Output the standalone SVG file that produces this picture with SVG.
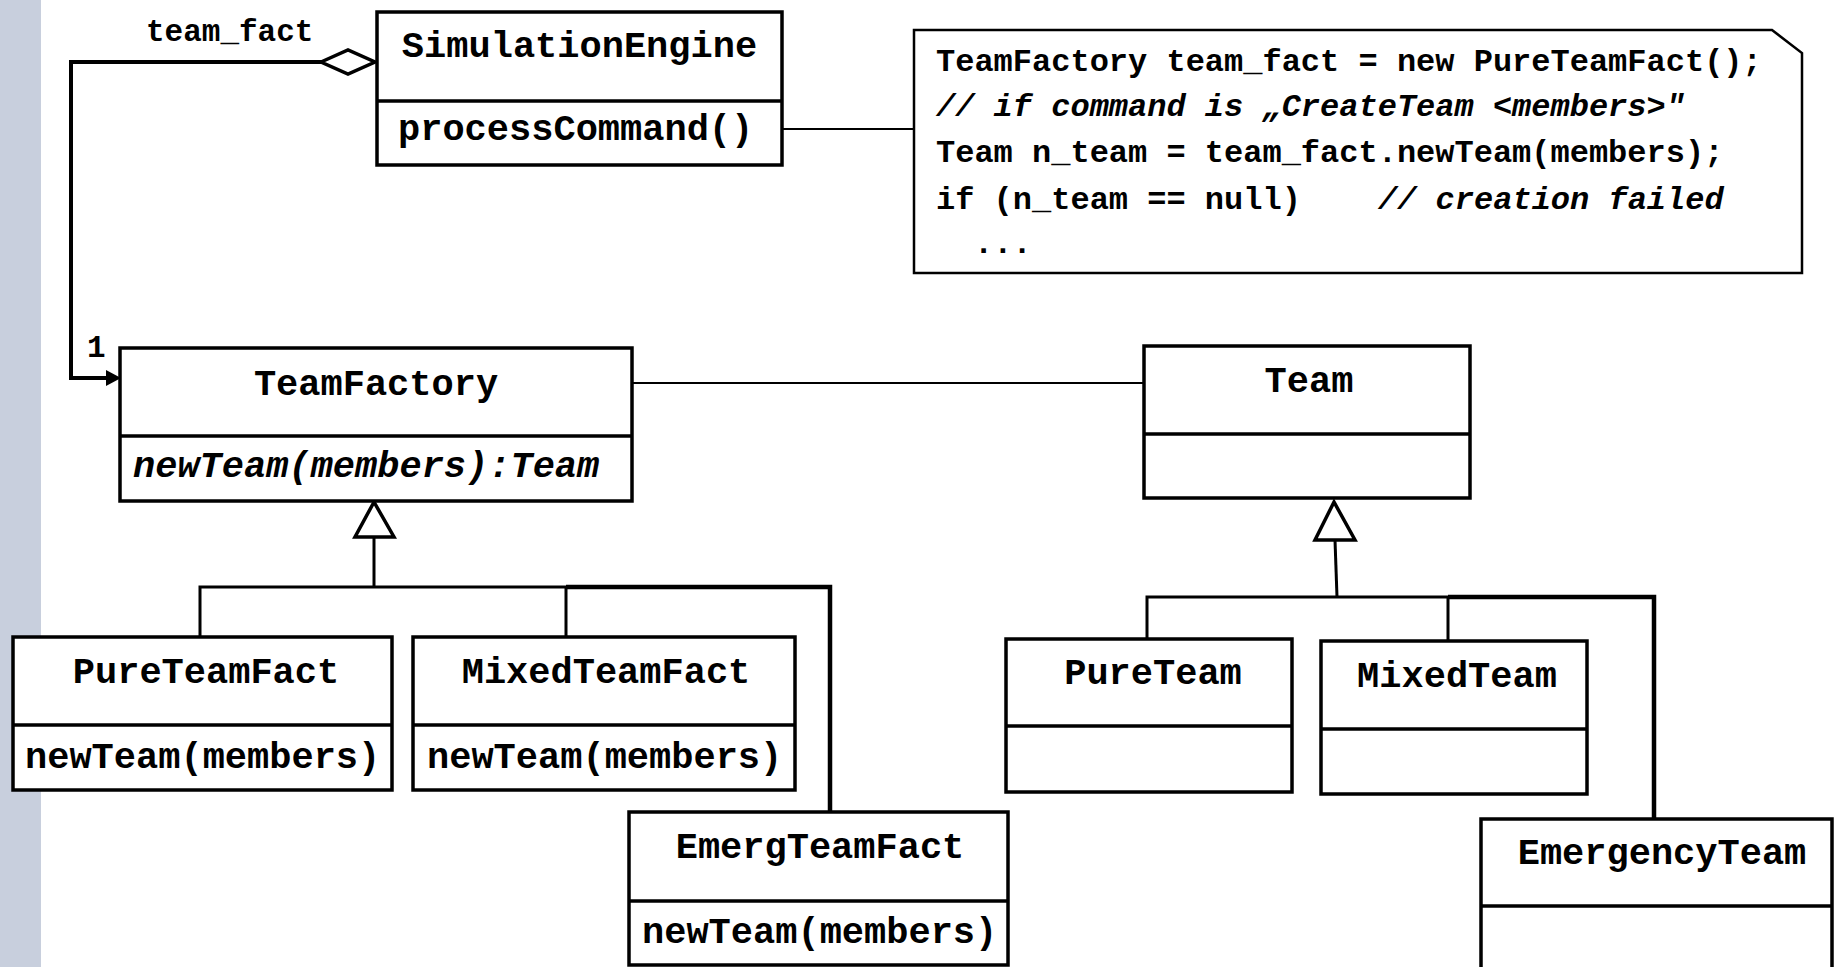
<svg xmlns="http://www.w3.org/2000/svg" width="1835" height="967" viewBox="0 0 1835 967">
  <style>
    .box { fill: #ffffff; stroke: #000000; stroke-width: 3.5; }
    .div { stroke: #000000; stroke-width: 3.5; }
    .note { fill: #ffffff; stroke: #000000; stroke-width: 2.5; }
    .t { font-family: "Liberation Mono", "Courier New", monospace; font-weight: bold; fill: #000000; }
    .title { font-size: 37px; text-anchor: middle; }
    .op { font-size: 37px; }
    .it { font-style: italic; }
    .code { font-size: 32px; }
    .lbl { font-size: 31px; }
    .ln { fill: none; stroke: #000000; stroke-linejoin: miter; }
    .thin { stroke-width: 2; }
    .mid { stroke-width: 3; }
    .thick { stroke-width: 4.5; }
    .head { fill: #ffffff; stroke: #000000; stroke-width: 3.5; stroke-linejoin: miter; }
  </style>

  <!-- side band -->
  <rect x="0" y="0" width="41" height="967" fill="#c8cfdd"/>

  <!-- connectors -->
  <g id="connectors">
    <!-- aggregation SimulationEngine -> TeamFactory -->
    <path class="ln" d="M321,62 H71 V378 H108" stroke-width="4"/>
    <polygon points="106,370 121,378 106,386" fill="#000000"/>
    <polygon class="head" points="321,62 348,50 375,62 348,74"/>
    <text class="t lbl" x="146" y="41">team_fact</text>
    <text class="t lbl" x="87" y="357">1</text>

    <!-- note attachment -->
    <path class="ln thin" d="M782,129 H914"/>

    <!-- association TeamFactory - Team -->
    <path class="ln thin" d="M632,383 H1145"/>

    <!-- generalization: factories -->
    <path class="ln mid" d="M374,537 V587"/>
    <path class="ln mid" d="M200,637 V587 H566 V637"/>
    <path class="ln thick" d="M566,587 H830 V812"/>
    <polygon class="head" points="374,502 355,537 394,537"/>

    <!-- generalization: teams -->
    <path class="ln mid" d="M1335,540 L1337,597"/>
    <path class="ln mid" d="M1147,639 V597 H1448 V641"/>
    <path class="ln thick" d="M1448,597 H1654 V819"/>
    <polygon class="head" points="1334,502 1315,540 1355,540"/>
  </g>

  <g id="SimulationEngine">
    <rect class="box" x="377" y="12" width="405" height="153"/>
    <line class="div" x1="377" y1="101" x2="782" y2="101"/>
    <text class="t title" x="579.5" y="57">SimulationEngine</text>
    <text class="t op" x="398" y="140">processCommand()</text>
  </g>

  <g id="CodeNote">
    <path class="note" d="M914,30 H1772 L1802,53 V273 H914 Z"/>
    <text class="t code" x="936" y="71">TeamFactory team_fact = new PureTeamFact();</text>
    <text class="t code it" x="936" y="116">// if command is „CreateTeam &lt;members&gt;"</text>
    <text class="t code" x="936" y="162">Team n_team = team_fact.newTeam(members);</text>
    <text class="t code" x="936" y="209">if (n_team == null)<tspan class="it" x="1378">// creation failed</tspan></text>
    <text class="t code" x="974" y="253">...</text>
  </g>

  <g id="TeamFactory">
    <rect class="box" x="120" y="348" width="512" height="153"/>
    <line class="div" x1="120" y1="436" x2="632" y2="436"/>
    <text class="t title" x="376" y="395">TeamFactory</text>
    <text class="t op it" x="133" y="477">newTeam(members):Team</text>
  </g>

  <g id="Team">
    <rect class="box" x="1144" y="346" width="326" height="152"/>
    <line class="div" x1="1144" y1="434" x2="1470" y2="434"/>
    <text class="t title" x="1309" y="392">Team</text>
  </g>

  <g id="PureTeamFact">
    <rect class="box" x="13" y="637" width="379" height="153"/>
    <line class="div" x1="13" y1="725" x2="392" y2="725"/>
    <text class="t title" x="206" y="683">PureTeamFact</text>
    <text class="t op" x="25" y="768">newTeam(members)</text>
  </g>

  <g id="MixedTeamFact">
    <rect class="box" x="413" y="637" width="382" height="153"/>
    <line class="div" x1="413" y1="725" x2="795" y2="725"/>
    <text class="t title" x="606" y="683">MixedTeamFact</text>
    <text class="t op" x="427" y="768">newTeam(members)</text>
  </g>

  <g id="EmergTeamFact">
    <rect class="box" x="629" y="812" width="379" height="153"/>
    <line class="div" x1="629" y1="901" x2="1008" y2="901"/>
    <text class="t title" x="820" y="858">EmergTeamFact</text>
    <text class="t op" x="642" y="943">newTeam(members)</text>
  </g>

  <g id="PureTeam">
    <rect class="box" x="1006" y="639" width="286" height="153"/>
    <line class="div" x1="1006" y1="726" x2="1292" y2="726"/>
    <text class="t title" x="1153" y="684">PureTeam</text>
  </g>

  <g id="MixedTeam">
    <rect class="box" x="1321" y="641" width="266" height="153"/>
    <line class="div" x1="1321" y1="729" x2="1587" y2="729"/>
    <text class="t title" x="1457" y="687">MixedTeam</text>
  </g>

  <g id="EmergencyTeam">
    <rect class="box" x="1481" y="819" width="351" height="160"/>
    <line class="div" x1="1481" y1="906" x2="1832" y2="906"/>
    <text class="t title" x="1662" y="864">EmergencyTeam</text>
  </g>
</svg>
